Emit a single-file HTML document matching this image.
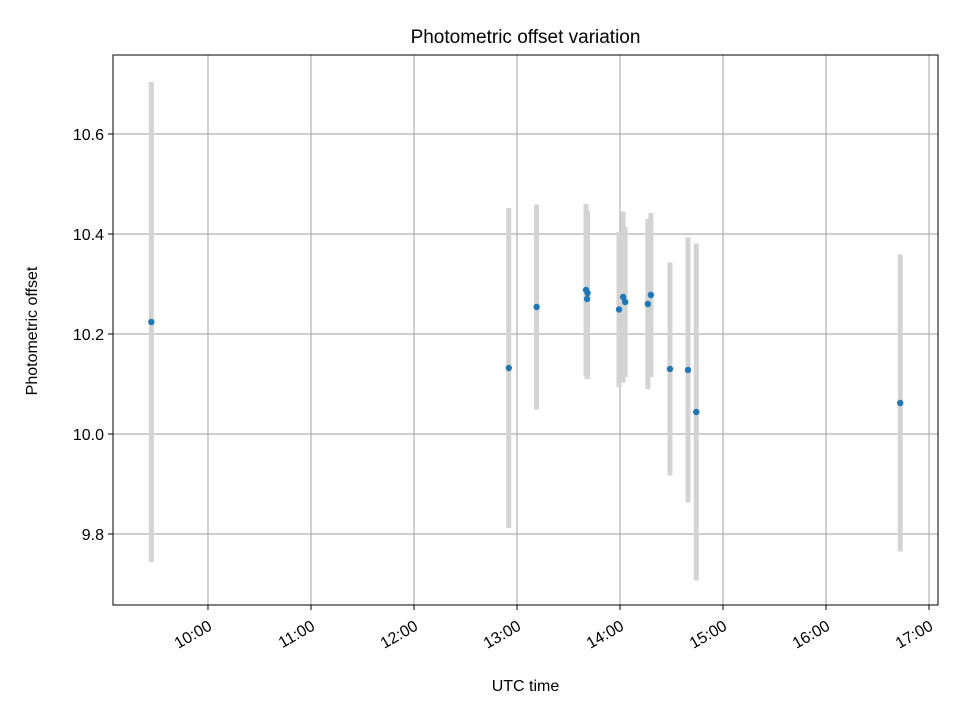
<!DOCTYPE html>
<html><head><meta charset="utf-8"><style>
body{margin:0;background:#fff;}
svg text{font-family:"Liberation Sans","DejaVu Sans",sans-serif;fill:#000;}
</style></head><body>
<svg id="chart" width="960" height="720">
<rect width="960" height="720" fill="#fff"/>
<g id="grid"></g><g id="bars"></g><g id="pts"></g><g id="axes"></g>
</svg>
<script>
const times=[9.45,12.92,13.19,13.67,13.685,13.68,13.99,14.03,14.05,14.27,14.30,14.485,14.66,14.74,16.72];
const offsets=[10.224,10.132,10.254,10.288,10.282,10.270,10.249,10.274,10.264,10.260,10.278,10.130,10.128,10.044,10.062];
const errors=[0.48,0.32,0.205,0.172,0.165,0.16,0.155,0.171,0.15,0.17,0.164,0.213,0.265,0.337,0.297];
const xTicks=[10,11,12,13,14,15,16,17];
const xTickLabels=["10:00","11:00","12:00","13:00","14:00","15:00","16:00","17:00"];
const yTicks=[9.8,10.0,10.2,10.4,10.6];
const yTickLabels=["9.8","10.0","10.2","10.4","10.6"];
const L=113,R=938,T=55,B=605,xMin=9.078,xMax=17.087,yMin=9.658,yMax=10.758;
const NS="http://www.w3.org/2000/svg";
const xs=v=>L+(v-xMin)/(xMax-xMin)*(R-L);
const ys=v=>B-(v-yMin)/(yMax-yMin)*(B-T);
function mk(tag,attrs,parent,txt){const e=document.createElementNS(NS,tag);for(const k in attrs)e.setAttribute(k,attrs[k]);if(txt!==undefined)e.textContent=txt;document.getElementById(parent).appendChild(e);return e;}
xTicks.forEach((t,i)=>{const x=xs(t);
 const g=mk('line',{x1:x,x2:x,y1:T,y2:B,stroke:'#b0b0b0','stroke-width':1.2},'grid');
 
 const tk=mk('line',{x1:x,x2:x,y1:B,y2:B+5,stroke:'#000','stroke-width':1},'axes');
 
 const ax=x+5,ay=B+24;
 const lb=mk('text',{x:ax,y:ay,'font-size':16,'text-anchor':'end',transform:`rotate(-30 ${ax} ${ay})`},'axes',xTickLabels[i]);
 
});
yTicks.forEach((t,i)=>{const y=ys(t);
 const g=mk('line',{x1:L,x2:R,y1:y,y2:y,stroke:'#b0b0b0','stroke-width':1.2},'grid');
 
 const tk=mk('line',{x1:L-5,x2:L,y1:y,y2:y,stroke:'#000','stroke-width':1},'axes');
 
 const lb=mk('text',{x:L-9,y:y+6,'font-size':16,'text-anchor':'end'},'axes',yTickLabels[i]);
 
});
times.forEach((t,i)=>{const x=xs(t);
 const b=mk('line',{x1:x,x2:x,y1:ys(offsets[i]+errors[i]),y2:ys(offsets[i]-errors[i]),stroke:'#d3d3d3','stroke-width':5},'bars');
 
 const p=mk('circle',{cx:x,cy:ys(offsets[i]),r:3.2,fill:'#1f77b4'},'pts');
 
});
const fr=mk('rect',{x:L,y:T,width:R-L,height:B-T,fill:'none',stroke:'#000','stroke-width':1},'axes');

const ti=mk('text',{x:(L+R)/2,y:43,'font-size':19,'text-anchor':'middle'},'axes','Photometric offset variation');

const xl=mk('text',{x:(L+R)/2,y:691,'font-size':16,'text-anchor':'middle'},'axes','UTC time');

const yl=mk('text',{x:37,y:(T+B)/2+1,'font-size':16,'text-anchor':'middle',transform:`rotate(-90 37 ${(T+B)/2+1})`},'axes','Photometric offset');

</script>
</body></html>
